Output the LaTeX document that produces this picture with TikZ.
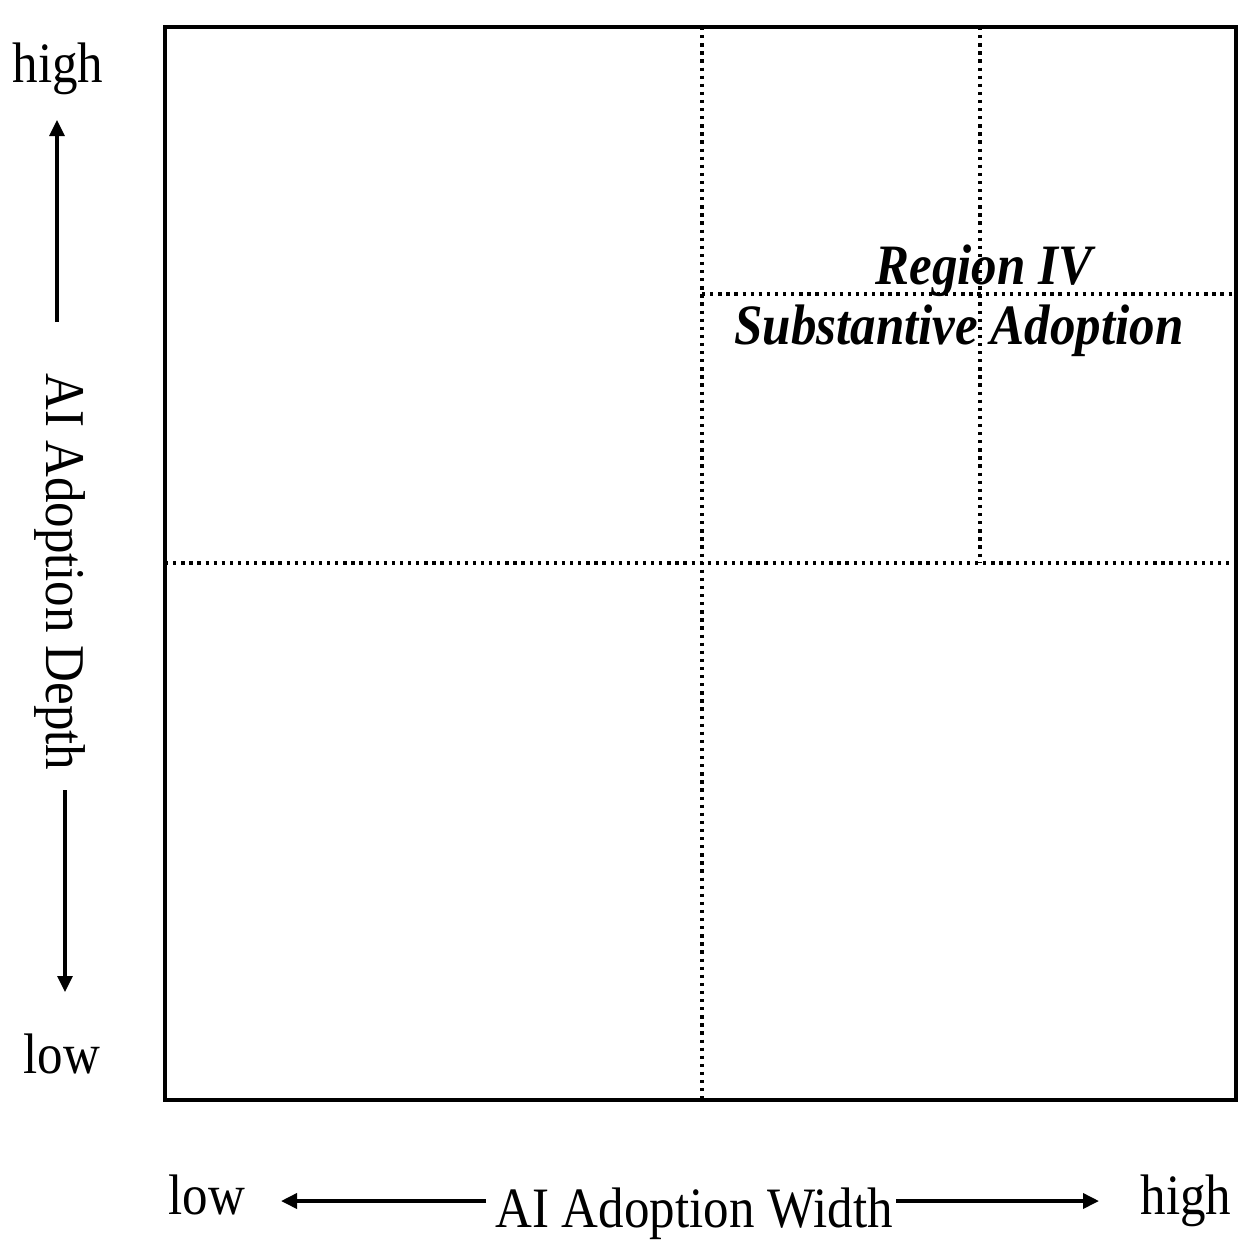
\documentclass[tikz,border=0pt]{standalone}
\usepackage{fontspec}
\setmainfont{Liberation Serif}
\usetikzlibrary{arrows.meta}
\begin{document}
\begin{tikzpicture}[x=1pt,y=-1pt,
  lbl/.style={inner sep=0pt, font=\fontsize{51}{60}\selectfont},
  region/.style={inner sep=0pt, font=\fontsize{51}{60}\selectfont\bfseries\itshape},
  frameline/.style={line width=3.5pt},
  dotline/.style={line width=3.3pt, dash pattern=on 3.3pt off 4.8pt},
  axarrow/.style={line width=3.2pt, -{Triangle[length=16pt,width=15pt]}}
]
\useasboundingbox (0,0) rectangle (1258,1250);

% frame
\node[draw, frameline, minimum width=1071pt, minimum height=1073pt, inner sep=0pt] (frame) at (700.5,563.5) {};

% dotted grid
\coordinate (vtop) at (702,27);
\coordinate (vbot) at (702,1100);
\coordinate (hleft) at (165,563);
\coordinate (hright) at (1236,563);
\coordinate (v2top) at (980,27);
\coordinate (v2bot) at (980,563);
\coordinate (h2left) at (702,294);
\coordinate (h2right) at (1236,294);
\draw[dotline] (vtop) -- (vbot);
\draw[dotline] (hleft) -- (hright);
\draw[dotline] (v2top) -- (v2bot);
\draw[dotline] (h2left) -- (h2right);

% region label
\node[region, anchor=base] (reg) at (984,284) {\scalebox{1}[1.12]{Region IV}};
\node[region, anchor=base] (regsub) at (959,344) {\scalebox{1}[1.12]{Substantive Adoption}};

% vertical axis
\node[lbl, anchor=base] (yhigh) at (58,82) {\scalebox{1}[1.12]{high}};
\node[lbl, anchor=base] (ylow) at (62,1073) {\scalebox{1}[1.12]{low}};
\node[lbl, rotate=-90] (ylab) at (60,572) {\scalebox{1}[1.1]{AI Adoption Depth}};
\coordinate (yupstart) at (57,322);
\coordinate (yuptip) at (57,120);
\coordinate (ydnstart) at (65,790);
\coordinate (ydntip) at (65,992);
\draw[axarrow] (yupstart) -- (yuptip);
\draw[axarrow] (ydnstart) -- (ydntip);

% horizontal axis
\node[lbl, anchor=base] (xlow) at (207,1214) {\scalebox{1}[1.12]{low}};
\node[lbl, anchor=base] (xhigh) at (1186,1214) {\scalebox{1}[1.12]{high}};
\node[lbl, anchor=base] (xlab) at (694,1227) {\scalebox{1}[1.12]{AI Adoption Width}};
\coordinate (xlstart) at (486,1201);
\coordinate (xltip) at (281,1201);
\coordinate (xrstart) at (896,1201);
\coordinate (xrtip) at (1099,1201);
\draw[axarrow, line width=3.6pt] (xlstart) -- (xltip);
\draw[axarrow, line width=3.6pt] (xrstart) -- (xrtip);
\end{tikzpicture}
\end{document}
